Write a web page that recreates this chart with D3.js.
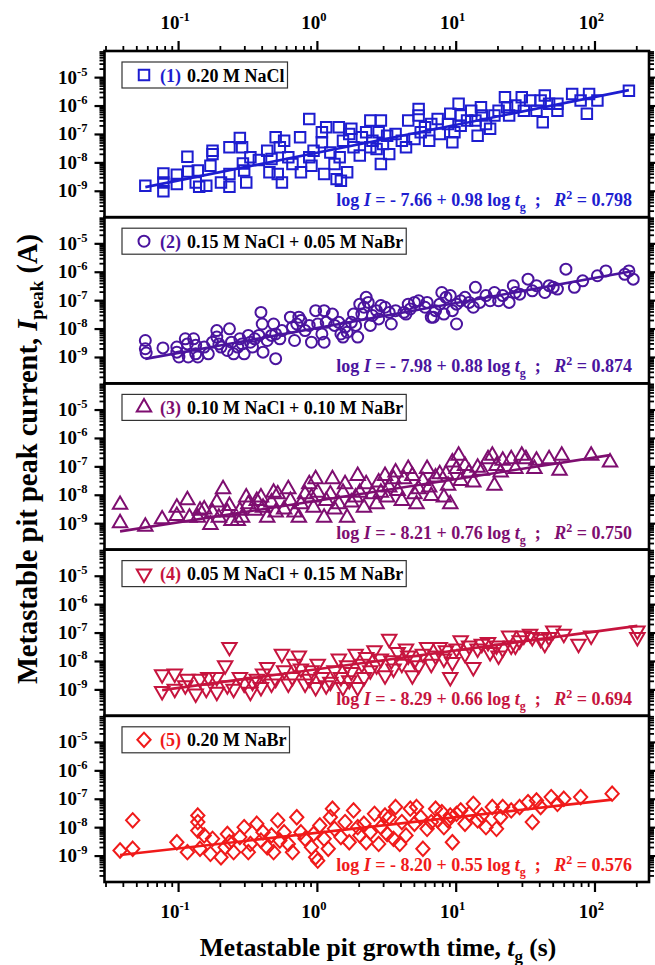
<!DOCTYPE html>
<html><head><meta charset="utf-8">
<script src="https://cdn.jsdelivr.net/npm/d3@7"></script>
<style>
body{margin:0;background:#fff}
svg{display:block}
text{font-family:"Liberation Serif","Times New Roman",serif;font-weight:bold}
</style>
</head><body>
<svg id="chart" width="655" height="965"></svg>
<script>
// Each point: [log10 t_g (s), log10 I_peak (A)]
const series1 = [[-1.236,-8.82],[-1.106,-8.39],[-1.106,-8.71],[-1.106,-9.02],[-1.009,-8.44],[-1.009,-8.76],[-0.933,-7.80],[-0.927,-8.32],[-0.873,-8.71],[-0.858,-8.29],[-0.848,-8.86],[-0.797,-8.82],[-0.767,-8.12],[-0.752,-7.59],[-0.752,-7.71],[-0.691,-8.71],[-0.630,-7.47],[-0.630,-8.41],[-0.630,-8.86],[-0.555,-7.14],[-0.539,-7.47],[-0.533,-8.04],[-0.524,-8.29],[-0.509,-8.71],[-0.479,-7.82],[-0.418,-7.92],[-0.358,-7.59],[-0.342,-8.35],[-0.327,-7.88],[-0.297,-7.12],[-0.282,-8.41],[-0.267,-7.47],[-0.252,-8.71],[-0.236,-7.24],[-0.206,-7.82],[-0.176,-8.06],[-0.121,-7.12],[-0.115,-8.35],[-0.055,-6.47],[-0.055,-7.82],[-0.039,-8.12],[-0.024,-7.59],[0.036,-6.94],[0.036,-7.29],[0.052,-8.41],[0.067,-6.76],[0.097,-7.65],[0.127,-8.06],[0.142,-8.59],[0.158,-6.76],[0.164,-7.82],[0.173,-8.65],[0.188,-7.24],[0.218,-8.35],[0.233,-7.00],[0.248,-6.82],[0.264,-7.47],[0.309,-7.76],[0.324,-7.12],[0.355,-6.94],[0.385,-6.53],[0.385,-7.47],[0.400,-7.24],[0.430,-7.53],[0.445,-6.94],[0.461,-6.53],[0.461,-8.06],[0.476,-7.35],[0.506,-7.06],[0.521,-7.71],[0.567,-7.00],[0.612,-7.24],[0.642,-7.47],[0.658,-6.53],[0.703,-7.18],[0.733,-6.12],[0.733,-6.35],[0.748,-6.94],[0.779,-6.76],[0.809,-7.24],[0.824,-6.65],[0.870,-6.47],[0.885,-7.00],[0.945,-6.65],[0.961,-6.29],[0.976,-7.29],[0.991,-6.94],[1.021,-5.94],[1.036,-6.35],[1.036,-6.71],[1.082,-6.53],[1.112,-6.18],[1.142,-6.53],[1.158,-7.06],[1.182,-6.06],[1.188,-6.35],[1.218,-6.65],[1.248,-6.82],[1.279,-6.35],[1.309,-6.18],[1.355,-5.71],[1.370,-6.06],[1.385,-6.35],[1.430,-6.00],[1.476,-5.71],[1.491,-6.18],[1.536,-5.82],[1.582,-6.18],[1.612,-5.82],[1.627,-6.59],[1.642,-5.65],[1.673,-5.94],[1.733,-6.18],[1.733,-5.94],[1.839,-5.59],[1.900,-5.82],[1.945,-6.29],[1.961,-5.59],[2.021,-5.82],[2.248,-5.48]];
const series2 = [[-1.236,-8.42],[-1.236,-8.71],[-1.230,-8.86],[-1.109,-8.68],[-1.009,-8.65],[-1.009,-8.83],[-0.994,-9.00],[-0.948,-8.36],[-0.933,-8.54],[-0.927,-9.00],[-0.888,-8.36],[-0.873,-8.59],[-0.873,-8.89],[-0.858,-9.00],[-0.812,-8.65],[-0.782,-8.89],[-0.752,-8.48],[-0.721,-8.07],[-0.721,-8.30],[-0.706,-8.54],[-0.691,-8.65],[-0.645,-8.77],[-0.630,-8.01],[-0.615,-8.48],[-0.600,-8.89],[-0.570,-8.65],[-0.555,-8.36],[-0.539,-8.54],[-0.524,-8.89],[-0.494,-8.24],[-0.479,-8.48],[-0.464,-8.65],[-0.448,-8.36],[-0.418,-8.24],[-0.403,-7.43],[-0.394,-7.84],[-0.388,-8.83],[-0.358,-8.42],[-0.327,-8.24],[-0.312,-7.84],[-0.297,-9.06],[-0.297,-8.19],[-0.267,-8.36],[-0.252,-8.07],[-0.191,-7.60],[-0.176,-7.95],[-0.161,-8.42],[-0.145,-7.84],[-0.130,-7.60],[-0.115,-7.72],[-0.085,-8.07],[-0.055,-7.89],[-0.039,-8.48],[-0.009,-7.37],[0.006,-7.84],[0.036,-8.19],[0.052,-7.37],[0.067,-7.78],[0.052,-8.48],[0.112,-7.49],[0.127,-7.89],[0.158,-7.78],[0.173,-8.19],[0.188,-8.30],[0.203,-7.95],[0.218,-8.13],[0.248,-7.78],[0.264,-7.49],[0.279,-7.89],[0.294,-8.30],[0.309,-7.14],[0.324,-7.49],[0.339,-7.25],[0.355,-6.90],[0.370,-7.08],[0.385,-7.89],[0.400,-7.54],[0.430,-7.37],[0.445,-7.66],[0.461,-7.19],[0.491,-7.25],[0.521,-7.43],[0.536,-7.84],[0.567,-7.37],[0.627,-7.43],[0.642,-7.49],[0.658,-7.14],[0.673,-7.31],[0.703,-7.08],[0.733,-7.02],[0.779,-7.25],[0.794,-7.08],[0.824,-7.60],[0.839,-7.60],[0.855,-7.37],[0.885,-7.14],[0.900,-6.73],[0.915,-7.49],[0.930,-6.90],[0.961,-6.84],[0.976,-7.37],[1.006,-7.84],[1.006,-7.14],[1.036,-7.02],[1.067,-6.90],[1.097,-7.08],[1.127,-7.25],[1.142,-6.55],[1.173,-7.08],[1.218,-6.84],[1.248,-7.02],[1.279,-6.73],[1.309,-7.02],[1.339,-6.84],[1.385,-7.08],[1.415,-6.49],[1.430,-6.73],[1.461,-6.79],[1.521,-6.26],[1.552,-6.67],[1.582,-6.49],[1.642,-6.73],[1.673,-6.49],[1.703,-6.55],[1.733,-6.61],[1.794,-5.91],[1.855,-6.55],[1.915,-6.32],[2.021,-6.14],[2.082,-5.97],[2.218,-6.09],[2.248,-5.97],[2.279,-6.26]];
const series3 = [[-1.418,-8.35],[-1.418,-9.00],[-1.236,-9.12],[-1.115,-8.86],[-1.009,-8.45],[-1.009,-8.74],[-0.933,-8.19],[-0.918,-8.80],[-0.858,-8.80],[-0.842,-8.56],[-0.812,-8.51],[-0.767,-9.06],[-0.752,-8.62],[-0.721,-8.27],[-0.706,-8.80],[-0.676,-7.80],[-0.645,-8.62],[-0.630,-8.39],[-0.615,-8.92],[-0.570,-8.92],[-0.555,-8.56],[-0.539,-8.80],[-0.509,-8.09],[-0.494,-8.33],[-0.448,-8.56],[-0.433,-8.21],[-0.403,-8.09],[-0.388,-8.45],[-0.358,-8.80],[-0.327,-8.27],[-0.312,-7.92],[-0.297,-8.62],[-0.282,-7.98],[-0.236,-8.51],[-0.206,-7.80],[-0.191,-8.21],[-0.161,-8.62],[-0.130,-8.80],[-0.115,-8.33],[-0.085,-7.98],[-0.055,-7.62],[-0.039,-8.09],[-0.024,-8.45],[-0.009,-7.45],[0.006,-7.92],[0.052,-8.80],[0.067,-8.21],[0.097,-7.98],[0.112,-7.45],[0.127,-8.51],[0.158,-8.33],[0.188,-7.92],[0.203,-7.62],[0.218,-8.80],[0.248,-8.27],[0.279,-8.09],[0.294,-7.33],[0.309,-7.92],[0.339,-8.45],[0.355,-7.62],[0.400,-7.98],[0.430,-8.33],[0.445,-7.56],[0.461,-7.92],[0.491,-7.33],[0.506,-8.09],[0.521,-7.74],[0.552,-7.45],[0.567,-7.21],[0.582,-7.86],[0.612,-8.21],[0.627,-7.45],[0.658,-7.09],[0.688,-7.33],[0.703,-7.98],[0.718,-8.33],[0.733,-7.80],[0.764,-7.51],[0.794,-7.09],[0.809,-7.74],[0.824,-8.04],[0.855,-7.39],[0.885,-7.27],[0.915,-8.09],[0.930,-7.27],[0.945,-7.68],[0.961,-8.33],[0.976,-6.86],[1.006,-7.09],[1.021,-6.62],[1.036,-7.51],[1.067,-6.98],[1.097,-7.21],[1.127,-7.56],[1.158,-7.04],[1.188,-7.15],[1.233,-6.74],[1.264,-6.62],[1.279,-7.68],[1.294,-6.98],[1.324,-7.21],[1.339,-6.80],[1.400,-6.74],[1.430,-7.09],[1.476,-6.62],[1.506,-6.74],[1.567,-7.09],[1.582,-6.80],[1.673,-6.74],[1.748,-7.15],[1.764,-6.62],[1.976,-6.62],[2.112,-6.86]];
const series4 = [[-1.115,-8.47],[-1.115,-9.06],[-1.024,-8.45],[-1.024,-8.98],[-0.948,-8.86],[-0.933,-8.63],[-0.873,-9.15],[-0.842,-8.63],[-0.797,-8.98],[-0.782,-8.57],[-0.721,-9.09],[-0.721,-8.57],[-0.661,-8.16],[-0.645,-8.86],[-0.630,-7.51],[-0.600,-8.98],[-0.555,-8.57],[-0.524,-8.80],[-0.479,-9.09],[-0.464,-8.74],[-0.433,-8.63],[-0.403,-8.92],[-0.388,-8.45],[-0.358,-8.22],[-0.327,-8.80],[-0.297,-8.63],[-0.252,-7.75],[-0.236,-8.33],[-0.206,-8.80],[-0.176,-8.57],[-0.161,-8.10],[-0.130,-7.81],[-0.115,-8.27],[-0.085,-8.80],[-0.055,-8.63],[-0.039,-8.33],[-0.009,-8.92],[0.006,-8.10],[0.036,-8.57],[0.067,-8.86],[0.097,-8.74],[0.127,-8.33],[0.158,-7.92],[0.173,-8.57],[0.188,-8.92],[0.218,-8.16],[0.233,-8.68],[0.248,-8.39],[0.279,-7.75],[0.294,-8.92],[0.324,-8.10],[0.339,-8.57],[0.355,-7.87],[0.385,-8.33],[0.415,-7.63],[0.430,-8.16],[0.461,-7.92],[0.491,-8.51],[0.521,-7.22],[0.536,-7.98],[0.552,-8.27],[0.582,-7.69],[0.612,-8.10],[0.642,-7.57],[0.658,-7.81],[0.688,-8.51],[0.703,-7.98],[0.733,-8.16],[0.764,-7.75],[0.794,-7.51],[0.824,-8.10],[0.855,-7.81],[0.885,-7.51],[0.915,-7.92],[0.930,-7.63],[0.961,-8.57],[0.976,-8.04],[1.006,-7.57],[1.036,-7.28],[1.067,-7.75],[1.097,-7.46],[1.127,-8.22],[1.158,-7.57],[1.188,-7.40],[1.233,-7.34],[1.248,-7.69],[1.294,-7.46],[1.309,-7.81],[1.339,-7.57],[1.385,-7.11],[1.400,-7.46],[1.430,-7.46],[1.461,-7.28],[1.491,-7.11],[1.536,-7.05],[1.552,-7.16],[1.612,-7.22],[1.642,-7.40],[1.673,-7.16],[1.703,-6.93],[1.779,-7.05],[1.885,-7.40],[1.976,-7.11],[2.309,-6.93],[2.309,-7.16]];
const series5 = [[-1.418,-8.82],[-1.327,-7.76],[-1.327,-8.76],[-1.009,-8.53],[-0.933,-8.88],[-0.858,-7.59],[-0.858,-7.82],[-0.858,-8.12],[-0.842,-8.76],[-0.812,-8.29],[-0.767,-8.94],[-0.752,-8.41],[-0.691,-9.06],[-0.661,-8.71],[-0.645,-8.24],[-0.630,-8.53],[-0.600,-8.88],[-0.555,-8.35],[-0.524,-8.00],[-0.494,-8.88],[-0.479,-8.59],[-0.433,-7.88],[-0.403,-8.47],[-0.388,-8.18],[-0.358,-8.71],[-0.327,-8.29],[-0.312,-8.88],[-0.282,-7.76],[-0.267,-8.47],[-0.236,-8.18],[-0.206,-8.59],[-0.176,-8.88],[-0.145,-7.65],[-0.115,-8.18],[-0.085,-8.41],[-0.039,-8.71],[-0.024,-8.24],[-0.009,-9.06],[0.006,-9.18],[0.021,-7.94],[0.052,-8.41],[0.082,-8.76],[0.097,-7.65],[0.112,-7.35],[0.127,-8.06],[0.173,-8.35],[0.203,-7.82],[0.233,-8.53],[0.264,-7.41],[0.294,-8.00],[0.309,-8.29],[0.339,-7.88],[0.355,-8.53],[0.385,-8.18],[0.415,-7.53],[0.445,-8.59],[0.461,-8.00],[0.491,-7.59],[0.506,-8.24],[0.521,-7.65],[0.552,-8.41],[0.567,-7.29],[0.597,-8.59],[0.612,-7.82],[0.642,-8.29],[0.673,-7.35],[0.703,-7.88],[0.718,-7.29],[0.748,-7.65],[0.764,-8.76],[0.794,-8.06],[0.824,-7.82],[0.855,-7.35],[0.870,-7.76],[0.900,-7.47],[0.915,-8.00],[0.945,-7.76],[0.961,-7.59],[0.976,-8.53],[1.006,-7.53],[1.036,-7.41],[1.067,-7.88],[1.097,-7.53],[1.127,-7.18],[1.158,-7.76],[1.188,-7.59],[1.218,-8.00],[1.264,-7.29],[1.294,-8.06],[1.324,-7.65],[1.339,-7.29],[1.400,-7.41],[1.461,-7.29],[1.521,-7.12],[1.552,-7.82],[1.582,-7.06],[1.612,-7.29],[1.688,-6.94],[1.733,-7.18],[1.779,-7.00],[1.900,-6.94],[2.127,-6.82]];

const panelNumbers = ["(1)", "(2)", "(3)", "(4)", "(5)"];
const panelNames = ["0.20 M NaCl", "0.15 M NaCl + 0.05 M NaBr", "0.10 M NaCl + 0.10 M NaBr", "0.05 M NaCl + 0.15 M NaBr", "0.20 M NaBr"];
const fitIntercepts = [-7.66, -7.98, -8.21, -8.29, -8.20];
const fitSlopes = [0.98, 0.88, 0.76, 0.66, 0.55];
const rSquared = ["0.798", "0.874", "0.750", "0.694", "0.576"];
const colors = ["#1d1dd0", "#4a149e", "#7e0e70", "#c6143e", "#f01a1a"];
const xMajorTicks = [0.1, 1, 10, 100];
const xTickExponents = ["-1", "0", "1", "2"];
const yMajorTicks = [1e-9, 1e-8, 1e-7, 1e-6, 1e-5];
const yTickExponents = ["-9", "-8", "-7", "-6", "-5"];

const allSeries = [series1, series2, series3, series4, series5];

// ---- layout ----
const L = 104.5, R = 649, T = 51, B = 882;
const panelH = (B - T) / 5;
const svg = d3.select("#chart");

const x = d3.scaleLog().domain([0.0295, 247]).range([L, R]);
const yDomain = [Math.pow(10, -9.93), Math.pow(10, -4.08)];

function minorTicks(domain) {
  const out = [];
  for (let d = -12; d <= 3; d++) for (let m = 2; m <= 9; m++) {
    const v = m * Math.pow(10, d);
    if (v >= domain[0] && v <= domain[1]) out.push(v);
  }
  return out;
}
const xMinor = minorTicks(x.domain());
const yMinor = minorTicks(yDomain);

const diamond = {
  draw(ctx, size) {
    const w = Math.sqrt(size) * 0.72, h = Math.sqrt(size) * 0.78;
    ctx.moveTo(0, -h); ctx.lineTo(w, 0); ctx.lineTo(0, h); ctx.lineTo(-w, 0); ctx.closePath();
  }
};
const symbolTypes = [d3.symbolSquare, d3.symbolCircle, d3.symbolTriangle, d3.symbolTriangle, diamond];
const symbolSizes = [110, 95, 90, 90, 85];
const symbolRot = [0, 0, 0, 180, 0];

function styleAxis(g, w) {
  g.select(".domain").remove();
  g.selectAll(".tick line").attr("stroke", "#000").attr("stroke-width", w);
  g.selectAll(".tick text").remove();
}

allSeries.forEach((data, i) => {
  const top = T + i * panelH, bot = top + panelH;
  const y = d3.scaleLog().domain(yDomain).range([bot, top]);
  const g = svg.append("g");
  const col = colors[i];

  // fit line
  const ext = d3.extent(data, d => d[0]);
  const fitPts = ext.map(lt => [Math.pow(10, lt), Math.pow(10, fitIntercepts[i] + fitSlopes[i] * lt)]);
  g.append("path")
    .attr("d", d3.line().x(d => x(d[0])).y(d => y(d[1]))(fitPts))
    .attr("stroke", col).attr("stroke-width", 2.6).attr("fill", "none");

  // points
  const sym = d3.symbol().type(symbolTypes[i]).size(symbolSizes[i]);
  g.selectAll("path.pt").data(data).enter().append("path")
    .attr("class", "pt")
    .attr("d", sym)
    .attr("transform", d => `translate(${x(Math.pow(10, d[0]))},${y(Math.pow(10, d[1]))}) rotate(${symbolRot[i]})`)
    .attr("fill", "none").attr("stroke", col).attr("stroke-width", 2);

  // y axes left / right (major and minor)
  g.append("g").attr("transform", `translate(${L},0)`)
    .call(d3.axisLeft(y).tickValues(yMajorTicks).tickSize(10).tickFormat(""))
    .call(a => styleAxis(a, 2.2));
  g.append("g").attr("transform", `translate(${L},0)`)
    .call(d3.axisLeft(y).tickValues(yMinor).tickSize(5).tickFormat(""))
    .call(a => styleAxis(a, 1.8));
  g.append("g").attr("transform", `translate(${R},0)`)
    .call(d3.axisRight(y).tickValues(yMajorTicks).tickSize(10).tickFormat(""))
    .call(a => styleAxis(a, 2.2));
  g.append("g").attr("transform", `translate(${R},0)`)
    .call(d3.axisRight(y).tickValues(yMinor).tickSize(5).tickFormat(""))
    .call(a => styleAxis(a, 1.8));

  // y tick labels
  yMajorTicks.forEach((v, k) => {
    const t = g.append("text").attr("x", L - 17).attr("y", y(v) + 6.5)
      .attr("text-anchor", "end").attr("font-size", 19).attr("fill", "#000");
    t.append("tspan").text("10");
    t.append("tspan").attr("font-size", 12.5).attr("dy", -8).text(yTickExponents[k]);
  });

  // legend
  const ly = top + 11;
  const lg = g.append("g");
  const lt = lg.append("text").attr("x", 160).attr("y", ly + 19.5).attr("font-size", 18);
  lt.append("tspan").attr("fill", col).text(panelNumbers[i]);
  lt.append("tspan").attr("fill", "#000").attr("dx", 6).text(panelNames[i]);
  const bb = lt.node().getBBox();
  lg.insert("rect", "text").attr("x", 122).attr("y", ly).attr("width", bb.x + bb.width + 3 - 122).attr("height", 26)
    .attr("fill", "#fff").attr("stroke", "#333").attr("stroke-width", 1.2);
  lg.append("path").attr("d", d3.symbol().type(symbolTypes[i]).size(symbolSizes[i])())
    .attr("transform", `translate(144,${ly + 13}) rotate(${symbolRot[i]})`)
    .attr("fill", "none").attr("stroke", col).attr("stroke-width", 2);

  // equation
  const eq = g.append("text").attr("x", 632).attr("y", bot - 11).attr("text-anchor", "end")
    .attr("font-size", 18).attr("fill", col).style("white-space", "pre");
  eq.append("tspan").text("log ");
  eq.append("tspan").attr("font-style", "italic").text("I");
  eq.append("tspan").text(` = - ${Math.abs(fitIntercepts[i]).toFixed(2)} + ${fitSlopes[i].toFixed(2)} log `);
  eq.append("tspan").attr("font-style", "italic").text("t");
  eq.append("tspan").attr("font-size", 12).attr("dy", 5).text("g");
  eq.append("tspan").attr("dy", -5).text("  ;   ");
  eq.append("tspan").attr("font-style", "italic").text("R");
  eq.append("tspan").attr("font-size", 12).attr("dy", -7).text("2");
  eq.append("tspan").attr("dy", 7).text(` = ${rSquared[i]}`);

  // panel frame
  g.append("rect").attr("x", L).attr("y", top).attr("width", R - L).attr("height", panelH)
    .attr("fill", "none").attr("stroke", "#000").attr("stroke-width", 2.6);

  // top / bottom x axes
  if (i === 0) {
    g.append("g").attr("transform", `translate(0,${T})`)
      .call(d3.axisTop(x).tickValues(xMajorTicks).tickSize(10).tickFormat("")).call(a => styleAxis(a, 2.2));
    g.append("g").attr("transform", `translate(0,${T})`)
      .call(d3.axisTop(x).tickValues(xMinor).tickSize(5).tickFormat("")).call(a => styleAxis(a, 1.8));
    xMajorTicks.forEach((v, k) => {
      const t = g.append("text").attr("x", x(v) - 3).attr("y", 29).attr("text-anchor", "middle").attr("font-size", 19);
      t.append("tspan").text("10");
      t.append("tspan").attr("font-size", 12.5).attr("dy", -8).text(xTickExponents[k]);
    });
  }
  if (i === 4) {
    g.append("g").attr("transform", `translate(0,${B})`)
      .call(d3.axisBottom(x).tickValues(xMajorTicks).tickSize(10).tickFormat("")).call(a => styleAxis(a, 2.2));
    g.append("g").attr("transform", `translate(0,${B})`)
      .call(d3.axisBottom(x).tickValues(xMinor).tickSize(5).tickFormat("")).call(a => styleAxis(a, 1.8));
    xMajorTicks.forEach((v, k) => {
      const t = g.append("text").attr("x", x(v) - 3).attr("y", 918).attr("text-anchor", "middle").attr("font-size", 19);
      t.append("tspan").text("10");
      t.append("tspan").attr("font-size", 12.5).attr("dy", -8).text(xTickExponents[k]);
    });
  }
});

// axis titles
const xt = svg.append("text").attr("x", 378).attr("y", 956).attr("text-anchor", "middle").attr("font-size", 25.5);
xt.append("tspan").text("Metastable pit growth time, ");
xt.append("tspan").attr("font-style", "italic").text("t");
xt.append("tspan").attr("font-size", 17).attr("dy", 6).text("g");
xt.append("tspan").attr("dy", -6).text(" (s)");

const yt = svg.append("text").attr("transform", "translate(37,459) rotate(-90)").attr("text-anchor", "middle").attr("font-size", 28.5);
yt.append("tspan").text("Metastable pit peak current, ");
yt.append("tspan").attr("font-style", "italic").text("I");
yt.append("tspan").attr("font-size", 19).attr("dy", 6).text("peak");
yt.append("tspan").attr("dy", -6).text(" (A)");
</script>
</body></html>
